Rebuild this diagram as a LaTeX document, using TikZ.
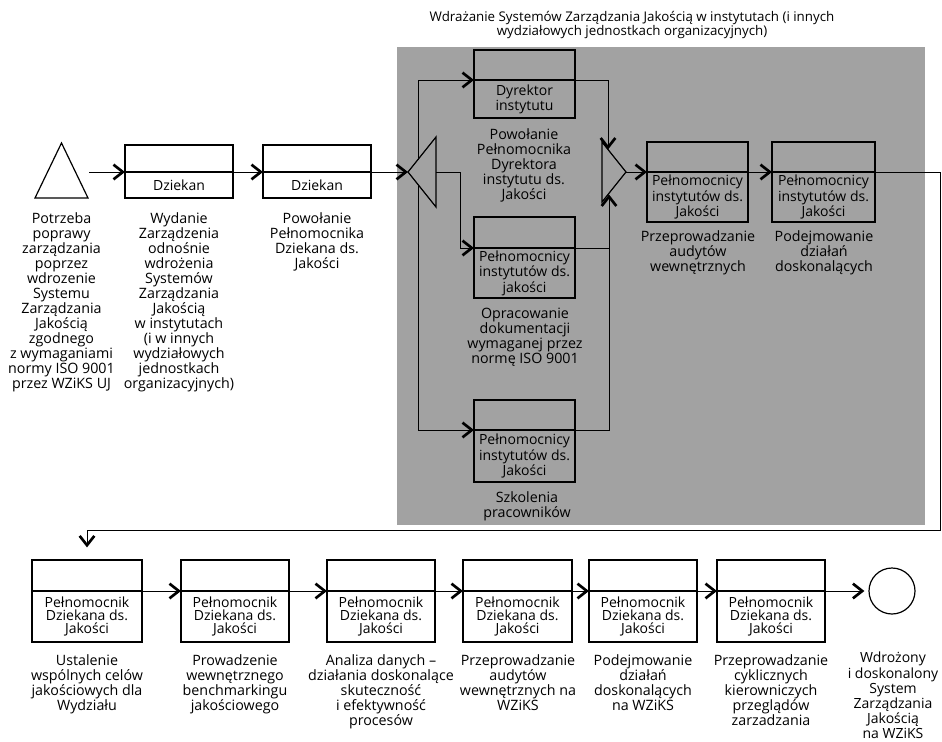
\documentclass[tikz,border=0pt]{standalone}
\usepackage{fontspec}
\setmainfont{Open Sans}
\usetikzlibrary{arrows.meta}
\definecolor{grayfill}{RGB}{162,162,162}
\tikzset{
  box/.style={draw, line width=0.9pt, inner sep=0pt},
  divl/.style={line width=0.9pt},
  lab/.style={align=center, font=\fontsize{10.5}{10.1}\selectfont, inner sep=0pt},
  captxt/.style={align=center, font=\fontsize{10.7}{11.25}\selectfont, inner sep=0pt, anchor=north},
  conn/.style={line width=0.6pt},
  arr/.style={conn, -{Straight Barb[length=7pt,width=11pt,line width=2pt]}},
}
\newcommand{\pbox}[7]{%
  \node[box, minimum width={(#4-#2)*0.75pt}, minimum height={(#5-#3)*0.75pt}] (#1) at ({(#2+#4)/2},{(#3+#5)/2}) {};
  \draw[divl] (#2,#6) -- (#4,#6);
  \coordinate (#1-l) at (#2,#6);
  \coordinate (#1-r) at (#4,#6);
  \node[lab] (#1-t) at ({(#2+#4)/2},{(#6+#5)/2}) {#7};
}
\begin{document}
\begin{tikzpicture}[x=0.75pt, y=-0.75pt]
\useasboundingbox (0,0) rectangle (942,742);
% gray area
\fill[grayfill] (397,47) rectangle (925,525);
\node[captxt, font=\fontsize{10}{10.5}\selectfont] (title) at (632,11) {Wdrażanie Systemów Zarządzania Jakością w instytutach (i innych\\wydziałowych jednostkach organizacyjnych)};

% start triangle
\draw[line width=0.9pt] (35,198) -- (88,198) -- (61.5,143) -- cycle;
\coordinate (start-r) at (89,172);
\node[captxt] (start-c) at (61.5,212) {Potrzeba\\poprawy\\zarządzania\\poprzez\\wdrozenie\\Systemu\\Zarządzania\\Jakością\\zgodnego\\z wymaganiami\\normy ISO 9001\\przez WZiKS UJ};

% top row boxes
\pbox{b1}{125}{145}{233}{198}{172}{Dziekan}
\pbox{b2}{263}{145}{371}{198}{172}{Dziekan}
\node[captxt] (b1-c) at (179,212) {Wydanie\\Zarządzenia\\odnośnie\\wdrożenia\\Systemów\\Zarządzania\\Jakością\\w instytutach\\(i w innych\\wydziałowych\\jednostkach\\organizacyjnych)};
\node[captxt] (b2-c) at (317,212) {Powołanie\\Pełnomocnika\\Dziekana ds.\\Jakości};

% split gateway
\draw[line width=0.9pt] (408,172) -- (436,137) -- (436,207) -- cycle;
\coordinate (gw1) at (408,172);
\coordinate (gw1-t) at (418,159.5);
\coordinate (gw1-b) at (418,184.5);
\coordinate (gw1-r) at (436,172);

% gray boxes
\pbox{dyr}{474}{50}{575}{118}{80}{Dyrektor\\instytutu}
\pbox{mid}{474}{217}{575}{298}{248}{Pełnomocnicy\\instytutów ds.\\jakości}
\pbox{szk}{474}{400}{575}{482}{430}{Pełnomocnicy\\instytutów ds.\\Jakości}
\pbox{prz}{647}{142}{748}{222}{172}{Pełnomocnicy\\instytutów ds.\\Jakości}
\pbox{pod}{772}{142}{875}{222}{172}{Pełnomocnicy\\instytutów ds.\\Jakości}
\begin{scope}[every node/.append style={font=\fontsize{10}{11.25}\selectfont}]
\node[captxt] (dyr-c) at (524,128) {Powołanie\\Pełnomocnika\\Dyrektora\\instytutu ds.\\Jakości};
\node[captxt] (mid-c) at (525,308) {Opracowanie\\dokumentacji\\wymaganej przez\\normę ISO 9001};
\node[captxt] (szk-c) at (527,491) {Szkolenia\\pracowników};
\node[captxt] (prz-c) at (698,230) {Przeprowadzanie\\audytów\\wewnętrznych};
\node[captxt] (pod-c) at (824,230) {Podejmowanie\\działań\\doskonalących};
\end{scope}

% merge gateway
\draw[line width=0.9pt] (626,172) -- (602,142) -- (602,202) -- cycle;
\coordinate (gw2) at (626,172);
\coordinate (gw2-t) at (608,149.5);
\coordinate (gw2-b) at (609,194.5);

% bottom row
\pbox{bb1}{32}{560}{142}{642}{591}{Pełnomocnik\\Dziekana ds.\\Jakości}
\pbox{bb2}{181}{560}{289}{642}{591}{Pełnomocnik\\Dziekana ds.\\Jakości}
\pbox{bb3}{327}{560}{435}{642}{591}{Pełnomocnik\\Dziekana ds.\\Jakości}
\pbox{bb4}{463}{560}{572}{642}{591}{Pełnomocnik\\Dziekana ds.\\Jakości}
\pbox{bb5}{589}{560}{697}{642}{591}{Pełnomocnik\\Dziekana ds.\\Jakości}
\pbox{bb6}{717}{560}{825}{642}{591}{Pełnomocnik\\Dziekana ds.\\Jakości}
\node[draw, circle, line width=0.9pt, minimum size=34.5pt, inner sep=0pt] (end) at (892,591) {};

\node[captxt] (bb1-c) at (87,654) {Ustalenie\\wspólnych celów\\jakościowych dla\\Wydziału};
\node[captxt] (bb2-c) at (235,654) {Prowadzenie\\wewnętrznego\\benchmarkingu\\jakościowego};
\node[captxt] (bb3-c) at (381,654) {Analiza danych –\\działania doskonalące\\skuteczność\\i efektywność\\procesów};
\node[captxt] (bb4-c) at (518,654) {Przeprowadzanie\\audytów\\wewnętrznych na\\WZiKS};
\node[captxt] (bb5-c) at (643,654) {Podejmowanie\\działań\\doskonalących\\na WZiKS};
\node[captxt] (bb6-c) at (771,654) {Przeprowadzanie\\cyklicznych\\kierowniczych\\przeglądów\\zarzadzania};
\node[captxt, font=\fontsize{10.5}{9.8}\selectfont] (end-c) at (893,652) {Wdrożony\\i doskonalony\\System\\Zarządzania\\Jakością\\na WZiKS};

% connectors top
\draw[arr] (start-r) -- (b1-l);
\draw[arr] (b1-r) -- (b2-l);
\draw[arr] (b2-r) -- (gw1);
\draw[arr] (gw1-t) |- (dyr-l);
\draw[arr] (gw1-b) |- (szk-l);
\draw[arr] (gw1-r) -- (460,172) |- (mid-l);
\draw[arr] (dyr-r) -| (gw2-t);
\draw[arr] (szk-r) -| (gw2-b);
\draw[conn] (mid-r) -- (mid-r -| gw2-b);
\draw[arr] (gw2) -- (prz-l);
\draw[arr] (prz-r) -- (pod-l);
\draw[arr, shorten >=9pt] (pod-r) -- (940,172) -- (940,530) -| (bb1.north);

% connectors bottom
\draw[arr] (bb1-r) -- (bb2-l);
\draw[arr] (bb2-r) -- (bb3-l);
\draw[arr] (bb3-r) -- (bb4-l);
\draw[arr] (bb4-r) -- (bb5-l);
\draw[arr] (bb5-r) -- (bb6-l);
\draw[arr, shorten >=3pt] (bb6-r) -- (end);
\end{tikzpicture}
\end{document}
